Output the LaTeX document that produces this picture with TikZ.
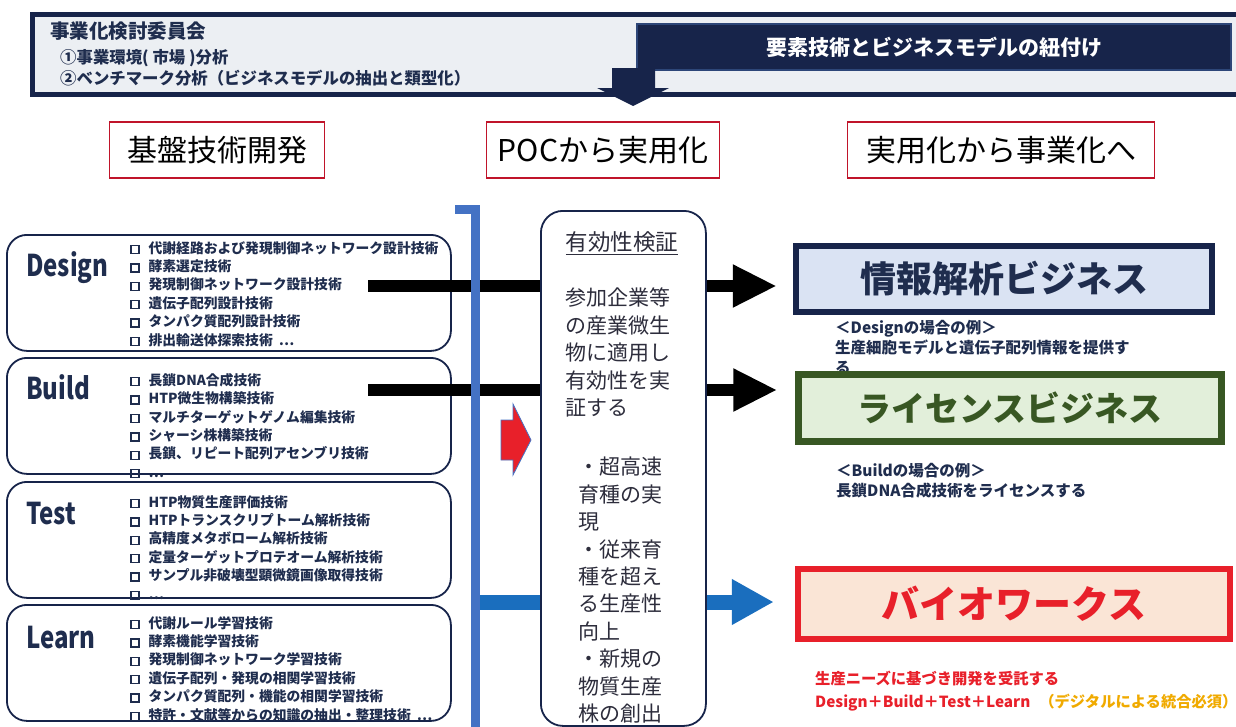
\documentclass[tikz,border=0pt]{standalone}
\usepackage{fontspec}
\setmainfont{Noto Sans CJK JP}
\newfontfamily\narrowfont{Noto Sans CJK JP}[FakeStretch=0.8]
\usetikzlibrary{arrows.meta}
\definecolor{navy}{RGB}{23,36,74}
\definecolor{navytext}{RGB}{31,45,78}
\definecolor{bannerfill}{RGB}{236,239,243}
\definecolor{bracketblue}{RGB}{68,114,196}
\definecolor{arrowblue}{RGB}{26,110,190}
\definecolor{hdrred}{RGB}{192,20,42}
\definecolor{infofill}{RGB}{218,227,243}
\definecolor{licgreen}{RGB}{56,87,35}
\definecolor{licfill}{RGB}{226,239,218}
\definecolor{biored}{RGB}{232,32,42}
\definecolor{biofill}{RGB}{250,229,214}
\definecolor{noteorange}{RGB}{240,170,0}
\definecolor{pocgray}{RGB}{45,45,60}
\newcommand{\sqmark}{\raisebox{0.3pt}{\setlength{\fboxsep}{0pt}\setlength{\fboxrule}{1.4pt}\fbox{\rule{0pt}{6.6pt}\rule{6.6pt}{0pt}}}\hspace{9pt}}
\begin{document}
\begin{tikzpicture}[x=1pt,y=-1pt,
  hdrbox/.style={draw=hdrred,line width=1.6pt,fill=white,minimum height=56pt,font=\fontsize{30}{30}\selectfont},
  techbox/.style={draw=navy,line width=1.8pt,rounded corners=20pt,fill=white,anchor=north west},
  techlabel/.style={anchor=base west,inner sep=0pt,text=navytext,font=\narrowfont\bfseries\fontsize{30}{30}\selectfont},
  techlist/.style={anchor=north west,align=left,inner sep=0pt,text=navytext,font=\bfseries\fontsize{13.8}{18.4}\selectfont},
  bizbox/.style={line width=6.5pt,font=\bfseries\fontsize{#1}{#1}\selectfont},
  bignote/.style={anchor=north west,align=left,inner sep=0pt,font=\bfseries\fontsize{15.5}{20}\selectfont},
  midtext/.style={anchor=north west,align=left,inner sep=0pt,text=pocgray,font=\fontsize{21}{27.4}\selectfont},
  fatarrow/.style={line width=12pt,-{Triangle[length=44pt,width=40pt]}}]
\useasboundingbox (0,0) rectangle (1236,726);

\node[draw=navy,line width=5pt,fill=bannerfill,anchor=north west,minimum width=1212pt,minimum height=80pt,inner sep=0pt] (banner) at (30,12) {};
\node[fill=navy,draw={rgb,255:red,45;green,70;blue,120},line width=1.5pt,text=white,font=\bfseries\fontsize{21}{21}\selectfont,minimum width=594pt,minimum height=46pt] (link) at (934,47) {要素技術とビジネスモデルの紐付け};
\node[anchor=west,inner sep=0pt,text=navytext,font=\bfseries\fontsize{19.5}{19.5}\selectfont] (cmte) at (50,31) {事業化検討委員会};
\node[anchor=west,inner sep=0pt,text=navytext,font=\bfseries\fontsize{16.4}{16.4}\selectfont] (cmtea) at (60,58) {①事業環境( 市場 )分析};
\node[anchor=west,inner sep=0pt,text=navytext,font=\bfseries\fontsize{16.4}{16.4}\selectfont] (cmteb) at (60,78) {②ベンチマーク分析（ビジネスモデルの抽出と類型化）};
\fill[navy] (612,68) -- (655,68) -- (655,88) -- (669,88) -- (633,106) -- (597,88) -- (612,88) -- cycle;

\node[hdrbox,minimum width=215pt] (base) at (217,150) {基盤技術開発};
\node[hdrbox,minimum width=233pt] (poch) at (603,150) {POCから実用化};
\node[hdrbox,minimum width=307pt] (bizh) at (1001,150) {実用化から事業化へ};

\node[techbox,minimum width=444pt,minimum height=116pt] (design) at (6,234) {};
\node[techlabel] (designlbl) at (26,276) {Design};
\node[techlist] (designlist) at (130,241) {\sqmark 代謝経路および発現制御ネットワーク設計技術\\\sqmark 酵素選定技術\\\sqmark 発現制御ネットワーク設計技術\\\sqmark 遺伝子配列設計技術\\\sqmark タンパク質配列設計技術\\\sqmark 排出輸送体探索技術\hspace{6pt}…};

\node[techbox,minimum width=444pt,minimum height=116pt] (build) at (6,357) {};
\node[techlabel] (buildlbl) at (26,399) {Build};
\node[techlist] (buildlist) at (130,373) {\sqmark 長鎖DNA合成技術\\\sqmark HTP微生物構築技術\\\sqmark マルチターゲットゲノム編集技術\\\sqmark シャーシ株構築技術\\\sqmark 長鎖、リピート配列アセンブリ技術\\\sqmark …};

\node[techbox,minimum width=444pt,minimum height=116pt] (test) at (6,481) {};
\node[techlabel] (testlbl) at (26,524) {Test};
\node[techlist] (testlist) at (130,495) {\sqmark HTP物質生産評価技術\\\sqmark HTPトランスクリプトーム解析技術\\\sqmark 高精度メタボローム解析技術\\\sqmark 定量ターゲットプロテオーム解析技術\\\sqmark サンプル非破壊型顕微鏡画像取得技術\\\sqmark …};

\node[techbox,minimum width=444pt,minimum height=116pt] (learn) at (6,604) {};
\node[techlabel] (learnlbl) at (26,648) {Learn};
\node[techlist] (learnlist) at (130,616) {\sqmark 代謝ルール学習技術\\\sqmark 酵素機能学習技術\\\sqmark 発現制御ネットワーク学習技術\\\sqmark 遺伝子配列・発現の相関学習技術\\\sqmark タンパク質配列・機能の相関学習技術\\\sqmark 特許・文献等からの知識の抽出・整理技術\hspace{6pt}…};

\node[bizbox=36,draw=navy,fill=infofill,text=navytext,minimum width=416pt,minimum height=66pt] (info) at (1004,279) {情報解析ビジネス};
\node[bignote,text=navytext] (infonote) at (835,320) {＜Designの場合の例＞\\生産細胞モデルと遺伝子配列情報を提供す\\る};
\node[bizbox=34,draw=licgreen,fill=licfill,text=licgreen,minimum width=423pt,minimum height=67pt] (lic) at (1010,408) {ライセンスビジネス};
\node[bignote,text=navytext] (licnote) at (836,463) {＜Buildの場合の例＞\\長鎖DNA合成技術をライセンスする};
\node[bizbox=38,draw=biored,fill=biofill,text=biored,minimum width=432pt,minimum height=70pt] (bio) at (1014,604) {バイオワークス};
\node[bignote,text=biored,font=\bfseries\fontsize{15.3}{23}\selectfont] (bionote) at (815,671) {生産ニーズに基づき開発を受託する\\Design＋Build＋Test＋Learn\hspace{9pt}\textcolor{noteorange}{（デジタルによる統合必須）}};

\coordinate (dsrc) at (368,286);
\coordinate (bsrc) at (368,390);
\coordinate (lsrc) at (476,602);
\draw[fatarrow,shorten >=16pt] (dsrc) -- (info.west |- dsrc);
\draw[fatarrow,shorten >=18pt] (bsrc) -- (lic.west |- bsrc);
\draw[fatarrow,line width=15pt,arrowblue,-{Triangle[length=42pt,width=43pt]},shorten >=21pt] (lsrc) -- (bio.west |- lsrc);

\draw[bracketblue,line width=9pt] (455,209) -- (475,209) -- (475,730);

\node[techbox,rounded corners=22pt,minimum width=165pt,minimum height=515pt] (poc) at (540,210) {};
\filldraw[fill=biored,draw=bracketblue,line width=0.8pt] (501,420) -- (513,420) -- (513,404) -- (531,440) -- (513,475) -- (513,460) -- (501,460) -- cycle;
\node[inner sep=0pt,text=pocgray,font=\fontsize{22.5}{22.5}\selectfont] (pocttl) at (622,243) {\underline{有効性検証}};
\node[midtext] (pocmain) at (565,288) {参加企業等\\の産業微生\\物に適用し\\有効性を実\\証する};
\node[midtext] (pocgoal) at (578,457) {・超高速\\育種の実\\現\\・従来育\\種を超え\\る生産性\\向上\\・新規の\\物質生産\\株の創出};
\end{tikzpicture}
\end{document}
